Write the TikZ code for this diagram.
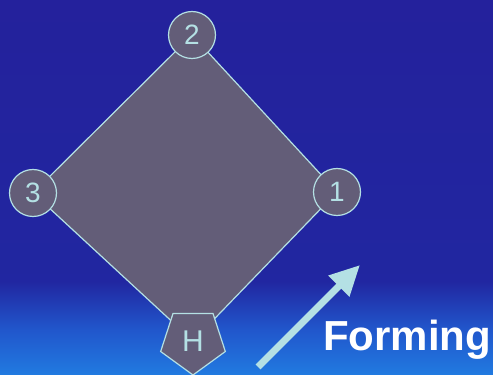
\documentclass[tikz,border=0pt]{standalone}
\usepackage{fontspec}
\setmainfont{Liberation Sans}
\usetikzlibrary{shapes.geometric,arrows.meta,backgrounds}
\definecolor{base}{HTML}{635D78}
\definecolor{chalk}{HTML}{B4E0E4}
\pgfdeclareverticalshading{sky}{100bp}{rgb(0bp)=(0.13,0.48,0.88); rgb(25bp)=(0.13,0.48,0.88); rgb(31bp)=(0.13,0.34,0.80); rgb(37.5bp)=(0.13,0.15,0.63); rgb(75bp)=(0.14,0.13,0.61); rgb(100bp)=(0.14,0.13,0.61)}

\begin{document}
\begin{tikzpicture}[x=1pt,y=1pt]
	\useasboundingbox (0,0) rectangle (493,375);
	\begin{scope}[every node/.style={circle,draw=chalk,line width=1.2pt,fill=base,text=chalk,minimum size=47pt,inner sep=0pt,font=\fontsize{28}{30}\selectfont}]
	\node (N1) at (337,183) {1};
	\node (N2) at (192,340) {2};
	\node (N3) at (33,182) {3};
	\end{scope}
	\node[regular polygon,regular polygon sides=5,shape border rotate=180,draw=chalk,line width=1.2pt,fill=base,text=chalk,minimum size=68pt,inner sep=0pt,font=\fontsize{30}{32}\selectfont] (H) at (193,34) {H};
	\begin{scope}[on background layer]
	\shade[shading=sky] (0,0) rectangle (493,375);
	\filldraw[fill=base,draw=chalk,line width=1.2pt] (N2.center) -- (N1.center) -- (H.center) -- (N3.center) -- cycle;
	\end{scope}
	\coordinate (tail) at (258,8);
	\coordinate (tip) at (360,110);
	\draw[chalk,line width=7pt,-{Triangle[length=30pt,width=28pt]}] (tail) -- (tip);
	\node[text=white,font=\fontsize{42}{44}\selectfont\bfseries] (label) at (407,35) {Forming};
\end{tikzpicture}
\end{document}
